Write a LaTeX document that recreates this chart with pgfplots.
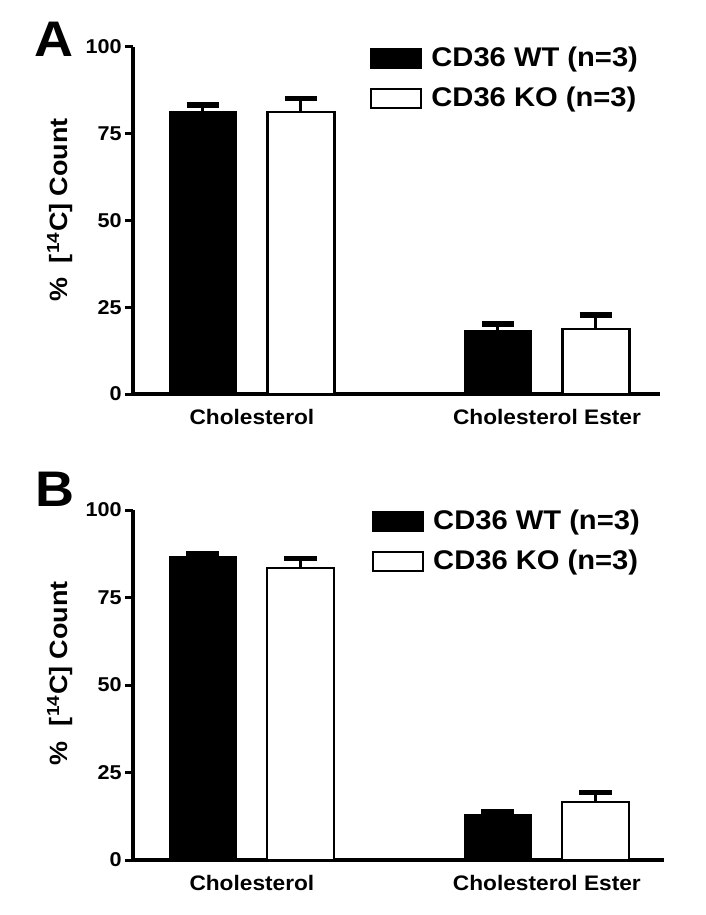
\documentclass[border=0pt]{standalone}
\usepackage{pgfplots}
\pgfplotsset{compat=1.18}
\usepackage{fontspec}
\setmainfont{Liberation Sans}[FakeStretch=1.08]
\pgfplotstableread{
x y e
0 81.5 1.8
1 18.2 2.0
}\AWT
\pgfplotstableread{
x y e
0 81.2 4.0
1 18.8 4.0
}\AKO
\pgfplotstableread{
x y e
0 86.7 0.8
1 13.0 0.7
}\BWT
\pgfplotstableread{
x y e
0 83.5 2.6
1 16.5 2.8
}\BKO
\pgfplotsset{
 panel/.style={
  scale only axis, width=263.5pt,
  ymin=0, ymax=100, xmin=-0.403, xmax=1.383,
  axis x line=bottom, axis y line=left,
  axis line style={-, line width=2.2pt},
  ytick={0,25,50,75,100},
  tick align=outside, major tick length=4pt,
  y tick style={line width=1.5pt, black},
  xtick={0,1}, xticklabels={Cholesterol, Cholesterol Ester},
  x tick style={draw=none},
  ybar, bar width=33.5pt,
  yticklabel style={font=\bfseries\fontsize{10}{10}\selectfont, inner sep=1.5pt},
  xticklabel style={font=\bfseries\fontsize{10.5}{10.5}\selectfont},
  /pgf/number format/assume math mode=true,
  legend style={at={(0.4497,1.012)}, anchor=north west, draw=none, fill=none, inner sep=0pt,
    font=\bfseries\fontsize{13.5}{13.5}\selectfont, row sep=4.5pt, legend cell align=left},
  legend image code/.code={\draw[#1, line width=1pt] (0pt,-4.75pt) rectangle (25pt,4.75pt);},
  clip=false,
 },
 wt/.style={fill=black, draw=black, bar shift=-24.5pt,
   error bars/.cd, y dir=plus, y explicit, error mark=|,
   error bar style={line width=1.5pt, black},
   error mark options={mark size=8.2pt, line width=2.8pt, black}},
 ko/.style={fill=white, draw=black, line width=1.1pt, bar shift=24.5pt,
   error bars/.cd, y dir=plus, y explicit, error mark=|,
   error bar style={line width=1.5pt, black},
   error mark options={mark size=8.2pt, line width=2.8pt, black}},
}
\begin{document}
\begin{tikzpicture}
\path[use as bounding box] (0,0) rectangle (353pt,-457.5pt);
\begin{axis}[panel, height=173.5pt, at={(66.5pt,-197pt)}, anchor=south west]
\addplot[wt] table[x=x,y=y,y error=e]{\AWT};
\addlegendentry{\hspace{2.5pt}CD36 WT (n=3)}
\addplot[ko] table[x=x,y=y,y error=e]{\AKO};
\addlegendentry{\hspace{2.5pt}CD36 KO (n=3)}
\end{axis}
\begin{axis}[panel, height=175pt, width=265.5pt, xmax=1.397, at={(66.5pt,-430pt)}, anchor=south west]
\addplot[wt] table[x=x,y=y,y error=e]{\BWT};
\addlegendentry{\hspace{2.5pt}CD36 WT (n=3)}
\addplot[ko] table[x=x,y=y,y error=e]{\BKO};
\addlegendentry{\hspace{2.5pt}CD36 KO (n=3)}
\end{axis}
\node[anchor=north west, inner sep=0pt, font=\bfseries\fontsize{25}{25}\selectfont] at (17pt,-11pt) {A};
\node[anchor=north west, inner sep=0pt, font=\bfseries\fontsize{25}{25}\selectfont] at (17.5pt,-236pt) {B};
\node[rotate=90, font=\bfseries\fontsize{12.5}{12.5}\selectfont] at (30pt,-105pt) {\%\ \ [\textsuperscript{14}C]\ Count};
\node[rotate=90, font=\bfseries\fontsize{12.5}{12.5}\selectfont] at (30pt,-336.5pt) {\%\ \ [\textsuperscript{14}C]\ Count};
\end{tikzpicture}
\end{document}
